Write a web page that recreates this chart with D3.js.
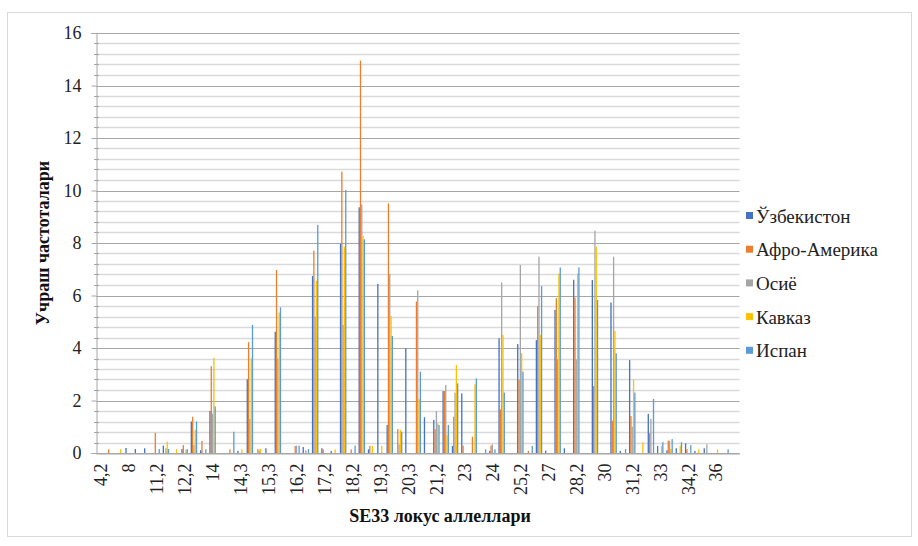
<!DOCTYPE html>
<html><head><meta charset="utf-8">
<script src="https://cdn.jsdelivr.net/npm/d3@7"></script>
<style>body{margin:0;background:#fff}svg{display:block}svg text{font-family:"Liberation Serif","DejaVu Serif",serif !important}</style>
</head><body>
<svg id="c" width="918" height="546"></svg>
<script>
const categories = ["4,2","6,3","7","8","9","10","11,2","12","12,1","12,2","13","13,2","14","14,1","14,2","14,3","15","15,2","15,3","16","16,1","16,2","16,3","17","17,2","17,3","18","18,2","19","19,2","19,3","20","20,2","20,3","21","21,1","21,2","22","22,2","23","23,2","23,3","24","24,2","25","25,2","26","26,2","27","27,2","28","28,2","29","29,2","30","30,2","31","31,2","32","32,2","33","33,2","34","34,2","35","35,2","36","37","38"];
const seriesNames = ["Ўзбекистон","Афро-Америка","Осиё","Кавказ","Испан"];
const colors = ["#4472C4","#ED7D31","#A5A5A5","#FFC000","#5B9BD5"];
const uzbekistan = [0,0,0,0.19,0.15,0.18,0,0.28,0,0.15,1.2,0.1,1.6,0,0,0.08,2.81,0,0.18,4.62,0,0,0.23,6.74,0.18,0.08,7.97,0,9.36,0.14,6.44,1.07,0,3.99,0,1.36,1.26,2.36,0.27,2.27,0,0,0.08,4.37,0,4.15,0,4.3,0.09,5.45,0.18,6.6,0,6.59,0,5.73,0.08,3.54,0,1.49,0.27,0.1,0.18,0.37,0.08,0.18,0,0,0];
const afroAmerica = [0,0.14,0,0,0,0,0.77,0,0,0.3,1.38,0.46,3.31,0,0.14,0,4.22,0.15,0,6.97,0,0.27,0,7.71,0.14,0,10.72,0.14,14.95,0.27,0,9.51,0.91,0,5.77,0,0.9,2.36,1.38,0.28,0.62,0,0.28,1.66,0,2.78,0.08,5.6,0,5.9,0,5.92,0,2.55,0,1.23,0,1.41,0,0.75,0,0.47,0,0.15,0,0,0,0,0];
const asia = [0,0,0,0,0,0,0,0.18,0,0,0.3,0,1.5,0,0,0,1.3,0.1,0,3.6,0,0.28,0.1,5.2,0,0,4.88,0,9.47,0,0,6.82,0.33,0,6.2,0,1.6,2.59,2.3,0,0,0,0.33,6.5,0,7.16,0,7.48,0,3.57,0,3.57,0,8.47,0,7.48,0,1.0,0,1.3,0,0.47,0,0,0,0.33,0,0,0];
const caucasus = [0,0,0.14,0,0,0,0,0.43,0.14,0.12,0.88,0,3.63,0,0,0.14,3.6,0.15,0,5.35,0,0,0,6.56,0,0.14,7.86,0,8.27,0.27,0.27,5.22,0.88,0,2.06,0,1.13,0.69,3.35,0,2.62,0,0,4.5,0,3.8,0,4.5,0,6.84,0,6.84,0,7.86,0,4.65,0,2.8,0.41,0,0.27,0.15,0.28,0,0.14,0,0.14,0,0];
const hispanic = [0,0,0,0,0,0,0.15,0.15,0,0.15,1.2,0.14,1.77,0,0.81,0,4.88,0,0,5.55,0,0.28,0.15,8.69,0,0,10.02,0.28,8.14,0,0,4.46,0.81,0,3.1,0,1.07,1.07,2.65,0,2.84,0.14,0.14,2.3,0,3.1,0.27,6.36,0,7.07,0,7.07,0,5.83,0,3.8,0.15,2.3,0,2.06,0.41,0.53,0.41,0.3,0,0,0,0.14,0];
const seriesValues = [uzbekistan, afroAmerica, asia, caucasus, hispanic];
const yTicks = [0,2,4,6,8,10,12,14,16];
const xTitle = "SE33 локус аллеллари";
const yTitle = "Учраш частоталари";

const svg = d3.select("#c");
const L = 96, R = 739.5, T = 33, B = 453;

svg.append("rect").attr("x",7.5).attr("y",12.5).attr("width",904).attr("height",524)
  .attr("fill","#fff").attr("stroke","#d9d9d9");

const x0 = d3.scaleBand().domain(categories).range([L,R]).paddingInner(0.3).paddingOuter(0.15);
const x1 = d3.scaleBand().domain(seriesNames).range([0,x0.bandwidth()]);
const y = d3.scaleLinear().domain([0,16]).range([B,T]);

const minor = d3.range(0,16.001,0.4).filter(v => Math.abs(v/2 - Math.round(v/2)) > 0.01);
svg.append("g").selectAll("line").data(minor).join("line")
  .attr("x1",L).attr("x2",R).attr("y1",d=>Math.round(y(d))+0.5).attr("y2",d=>Math.round(y(d))+0.5)
  .attr("stroke","#d9d9d9").attr("stroke-width",1.4);
svg.append("g").selectAll("line").data(yTicks).join("line")
  .attr("x1",L).attr("x2",R).attr("y1",d=>Math.round(y(d))+0.5).attr("y2",d=>Math.round(y(d))+0.5)
  .attr("stroke","#a6a6a6").attr("stroke-width",1);

const groups = svg.append("g").selectAll("g").data(categories).join("g")
  .attr("transform",d=>`translate(${x0(d)},0)`);
groups.selectAll("rect").data((d,i)=>seriesNames.map((s,k)=>({s,k,v:seriesValues[k][i]})))
  .join("rect")
  .attr("x",d=>x1(d.s)).attr("width",x1.bandwidth())
  .attr("y",d=>y(d.v)).attr("height",d=>B-y(d.v))
  .attr("fill",d=>colors[d.k]);

const yAxis = d3.axisLeft(y).tickValues(yTicks).tickSize(5).tickPadding(10).tickFormat(d3.format("d"));
const ya = svg.append("g").attr("transform",`translate(${L+0.5},0)`).call(yAxis);
ya.attr("font-family",null);
ya.select(".domain").attr("stroke","#a6a6a6");
ya.selectAll(".tick line").attr("stroke","#a6a6a6");
ya.selectAll("text").attr("font-size",18).attr("fill","#222");
svg.append("g").selectAll("line").data(minor).join("line")
  .attr("x1",L-2).attr("x2",L+3).attr("y1",d=>Math.round(y(d))+0.5).attr("y2",d=>Math.round(y(d))+0.5)
  .attr("stroke","#a6a6a6");

const xAxis = d3.axisBottom(x0).tickValues(categories.filter((c,i)=>i%3===0)).tickSize(0).tickPadding(0);
const xa = svg.append("g").attr("transform",`translate(0,${B+0.5})`).call(xAxis);
xa.attr("font-family",null);
xa.select(".domain").attr("stroke","#a6a6a6");
xa.selectAll("text").attr("font-size",18).attr("fill","#222")
  .attr("transform","rotate(-90)").attr("text-anchor","end").attr("dy","0.35em")
  .attr("x",-10).attr("y",0);

svg.append("text").attr("x",440).attr("y",522).attr("text-anchor","middle")
  .attr("font-weight","bold").attr("font-size",18).attr("fill","#111").text(xTitle);
svg.append("text").attr("transform","translate(49,243) rotate(-90)").attr("text-anchor","middle")
  .attr("font-weight","bold").attr("font-size",18).attr("fill","#111").text(yTitle);

const lg = svg.append("g").selectAll("g").data(seriesNames).join("g")
  .attr("transform",(d,i)=>`translate(746,${216+i*33.7})`);
lg.append("rect").attr("x",0).attr("y",-4).attr("width",7).attr("height",7).attr("fill",(d,i)=>colors[i]);
lg.append("text").attr("x",10).attr("y",0).attr("dy","0.35em").attr("font-size",19)
  .attr("fill","#222").text(d=>d);
</script>
</body></html>
